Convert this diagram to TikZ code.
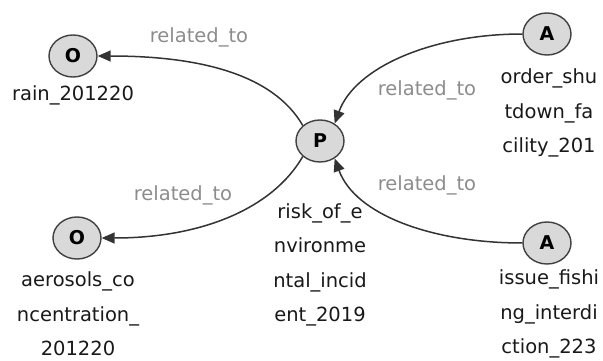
\documentclass[tikz,border=0pt]{standalone}
\usepackage{fontspec}
\setmainfont{DejaVu Sans}
\usetikzlibrary{shapes.geometric,arrows.meta}

\tikzset{
  ent/.style={ellipse, draw=black!75, fill=black!15, line width=1.4pt,
    minimum width=48pt, minimum height=42pt, inner sep=0pt,
    font=\fontsize{19}{19}\selectfont\bfseries},
  entlbl/.style={align=center, text=black!90,
    font=\fontsize{19.5}{34.5}\selectfont},
  rel/.style={-{Triangle[length=13pt,width=11pt]}, line width=1.5pt, draw=black!80},
  rellbl/.style={text=black!45, font=\fontsize{19.5}{19.5}\selectfont}
}

\begin{document}
\begin{tikzpicture}[x=1pt,y=1pt,yscale=-1]
	\useasboundingbox (0,0) rectangle (603,361);
	%left column
	\draw (73,56) node[ent] (o1) {O};
	% Text Node
	\draw (73,95) node[entlbl] (o1lbl) {rain\_201220};
	\draw (77,238) node[ent] (o2) {O};
	% Text Node
	\draw (78,314) node[entlbl] (o2lbl) {aerosols\_co\\ncentration\_\\201220};
	
	%middle
	\draw (320,141) node[ent] (p) {P};
	% Text Node
	\draw (320,265) node[entlbl] (plbl) {risk\_of\_e\\nvironme\\ntal\_incid\\ent\_2019};
	
	%right column
	\draw (547,34) node[ent] (a1) {A};
	% Text Node
	\draw (549,113) node[entlbl] (a1lbl) {order\_shu\\tdown\_fa\\cility\_201};
	\draw (547,243) node[ent] (a2) {A};
	% Text Node
	\draw (549,314) node[entlbl] (a2lbl) {issue\_fishi\\ng\_interdi\\ction\_223};
	
	% edge labels
	\draw (199,37) node[rellbl] (r1) {related\_to};
	\draw (183,195) node[rellbl] (r2) {related\_to};
	\draw (427,90) node[rellbl] (r3) {related\_to};
	\draw (427,185) node[rellbl] (r4) {related\_to};
	
	% arrows (angles flipped by yscale=-1)
	\draw[rel] (p.138) to[out=-120, in=0, out distance=60pt, in distance=100pt] (o1.east);
	\draw[rel] (p.222) to[out=120, in=0, out distance=60pt, in distance=100pt] (o2.east);
	\draw[rel] (a1.west) to[out=180, in=-70, out distance=90pt, in distance=60pt] (p.50);
	\draw[rel] (a2.west) to[out=180, in=70, out distance=90pt, in distance=60pt] (p.310);
\end{tikzpicture}
\end{document}
